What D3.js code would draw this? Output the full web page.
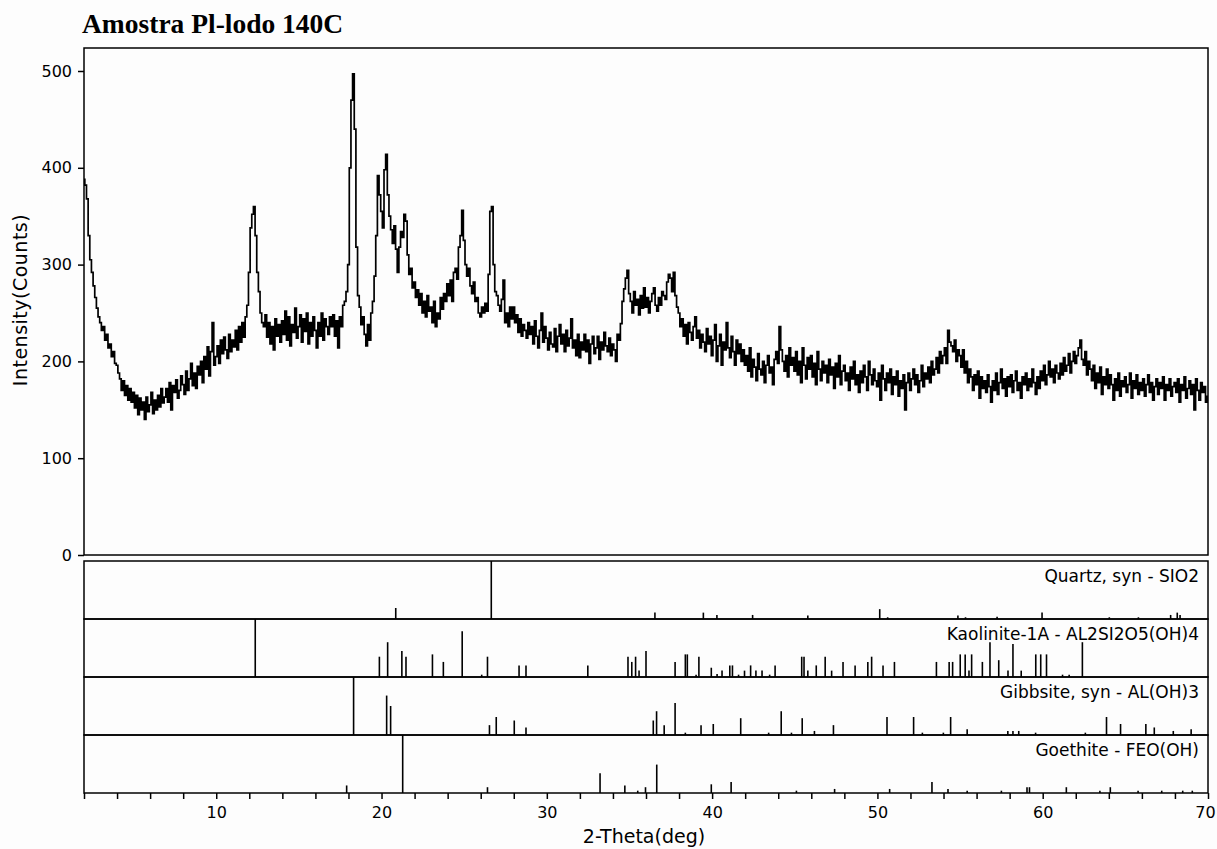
<!DOCTYPE html>
<html>
<head>
<meta charset="utf-8">
<script src="https://cdn.jsdelivr.net/npm/d3@7"></script>
<style>
  body { margin: 0; background: #fdfdfd; }
  svg { display: block; }
  text { font-family: "DejaVu Sans", sans-serif; fill: #000; }
</style>
</head>
<body>
<div id="chart"></div>
<script>
// ---- scan data: counts every 0.1 deg from 2.0 to 70.0 ----
const twoThetaStart = 2.0, twoThetaStep = 0.1;
const counts = [
  388, 382, 368, 330, 305, 292, 278, 266, 255, 246,
  240, 232, 236, 222, 228, 214, 218, 205, 210, 198,
  196, 188, 182, 170, 180, 165, 175, 160, 172, 158,
  168, 152, 165, 145, 162, 150, 158, 140, 163, 148,
  155, 168, 146, 160, 150, 165, 153, 172, 157, 163,
  172, 158, 178, 150, 175, 168, 181, 162, 170, 185,
  176, 166, 190, 170, 182, 198, 175, 188, 172, 195,
  186, 200, 178, 205, 192, 215, 185, 210, 240, 196,
  205, 216, 198, 222, 208, 225, 212, 203, 228, 210,
  222, 215, 232, 212, 236, 220, 240, 225, 246, 258,
  292, 338, 352, 360, 330, 292, 272, 250, 240, 236,
  248, 225, 240, 218, 236, 212, 244, 226, 238, 220,
  242, 228, 252, 222, 246, 216, 238, 230, 255, 224,
  236, 248, 220, 244, 231, 250, 218, 240, 226, 246,
  232, 214, 240, 226, 250, 222, 244, 236, 228, 246,
  236, 248, 226, 242, 214, 246, 236, 258, 262, 272,
  300, 400, 470, 497, 440, 318, 268, 256, 238, 246,
  228, 216, 238, 222, 250, 262, 288, 330, 392, 372,
  355, 338, 398, 414, 372, 350, 336, 322, 340, 316,
  292, 318, 334, 328, 352, 345, 310, 290, 296, 276,
  282, 266, 274, 258, 270, 250, 262, 246, 268, 252,
  256, 240, 262, 236, 250, 244, 266, 254, 270, 262,
  280, 268, 284, 262, 292, 296, 285, 318, 330, 356,
  325, 300, 288, 296, 278, 270, 282, 262, 266, 250,
  246, 256, 250, 260, 252, 290, 355, 360, 300, 272,
  268, 258, 252, 264, 284, 240, 250, 236, 256, 244,
  256, 240, 248, 230, 244, 226, 238, 232, 224, 240,
  228, 236, 218, 242, 226, 214, 232, 250, 220, 236,
  224, 212, 230, 218, 215, 234, 210, 226, 238, 218,
  228, 210, 232, 216, 224, 244, 214, 222, 206, 228,
  204, 220, 212, 228, 210, 222, 198, 218, 226, 208,
  214, 226, 202, 220, 212, 230, 216, 210, 224, 206,
  218, 212, 200, 228, 222, 239, 262, 275, 286, 294,
  270, 262, 250, 272, 258, 264, 248, 268, 255, 276,
  256, 266, 250, 262, 270, 276, 258, 252, 266, 258,
  272, 268, 264, 282, 290, 286, 272, 292, 268, 256,
  250, 236, 244, 226, 238, 218, 240, 230, 222, 236,
  246, 224, 232, 214, 228, 220, 210, 234, 218, 226,
  206, 222, 238, 200, 216, 228, 196, 220, 212, 240,
  214, 204, 226, 210, 196, 222, 208, 218, 200, 212,
  196, 206, 190, 214, 184, 202, 194, 180, 208, 192,
  186, 200, 178, 196, 206, 188, 194, 176, 202, 210,
  198, 236, 212, 200, 190, 206, 184, 214, 196, 204,
  190, 210, 186, 200, 178, 214, 196, 182, 204, 192,
  206, 184, 198, 176, 210, 192, 180, 200, 188, 196,
  178, 202, 186, 194, 172, 198, 184, 206, 176, 190,
  196, 180, 188, 170, 194, 182, 200, 176, 186, 168,
  190, 178, 196, 184, 170, 200, 186, 176, 192, 180,
  174, 188, 160, 196, 182, 170, 188, 178, 192, 166,
  184, 176, 190, 164, 180, 172, 186, 150, 178, 188,
  170, 182, 192, 176, 186, 168, 180, 196, 174, 188,
  182, 194, 178, 200, 186, 192, 204, 188, 210, 198,
  206, 214, 198, 232, 220, 216, 210, 222, 200, 212,
  206, 194, 212, 188, 200, 178, 192, 184, 170, 186,
  176, 190, 162, 184, 172, 180, 168, 186, 174, 158,
  180, 170, 188, 166, 178, 192, 172, 182, 164, 184,
  174, 186, 168, 180, 190, 170, 178, 162, 184, 176,
  188, 170, 182, 174, 192, 178, 166, 184, 172, 190,
  180, 196, 176, 186, 200, 184, 192, 178, 196, 188,
  182, 198, 186, 204, 190, 196, 208, 188, 200, 210,
  198, 206, 214, 222, 202, 196, 210, 186, 200, 192,
  180, 196, 172, 188, 178, 194, 166, 184, 176, 192,
  172, 186, 176, 160, 182, 170, 188, 164, 180, 174,
  184, 168, 176, 188, 162, 180, 172, 186, 166, 178,
  170, 182, 164, 176, 186, 168, 178, 160, 174, 182,
  166, 178, 172, 184, 160, 176, 170, 182, 164, 174,
  178, 168, 182, 158, 176, 170, 184, 162, 172, 180,
  166, 176, 150, 182, 170, 160, 178, 168, 174, 158,
  164
];

// ---- reference patterns (2-theta, relative intensity %) ----
const phaseNames = [
  "Quartz, syn - SIO2",
  "Kaolinite-1A - AL2SI2O5(OH)4",
  "Gibbsite, syn - AL(OH)3",
  "Goethite - FEO(OH)"
];
const quartzPos = [20.86, 26.64, 36.54, 39.47, 40.29, 42.45, 45.79, 50.14, 50.62, 54.87, 55.33, 57.24, 59.96, 64.03, 65.79, 67.74, 68.14, 68.31];
const quartzInt = [19, 100, 11, 11, 7, 7, 6, 17, 3, 6, 3, 4, 11, 3, 3, 7, 11, 7];
const kaolinitePos = [12.36, 19.87, 20.37, 21.23, 21.48, 23.08, 23.74, 24.88, 26.06, 26.41, 28.32, 28.74, 32.48, 34.91, 35.14, 35.37, 35.58, 36.0, 37.76, 38.38, 38.5, 39.03, 39.2, 39.95, 40.3, 40.6, 41.07, 41.23, 41.6, 41.96, 42.33, 42.65, 43.02, 43.48, 43.81, 45.42, 45.56, 45.79, 46.3, 46.84, 47.23, 47.92, 48.65, 49.42, 49.65, 50.34, 51.03, 53.57, 54.34, 54.55, 55.01, 55.31, 55.54, 55.7, 56.35, 56.81, 57.34, 57.9, 58.2, 58.7, 59.58, 59.88, 60.23, 61.2, 61.6, 62.4];
const kaoliniteInt = [100, 35, 60, 45, 35, 39, 26, 79, 4, 35, 20, 20, 20, 35, 26, 35, 11, 45, 26, 39, 39, 4, 35, 16, 5, 11, 20, 20, 4, 11, 20, 11, 11, 4, 20, 35, 35, 11, 20, 35, 11, 26, 20, 26, 35, 20, 26, 26, 26, 26, 39, 39, 11, 39, 26, 60, 29, 11, 57, 11, 39, 39, 39, 4, 4, 60];
const gibbsitePos = [18.31, 20.31, 20.55, 26.53, 26.94, 28.03, 28.74, 36.44, 36.64, 37.1, 37.76, 38.38, 39.33, 40.07, 41.73, 43.42, 44.18, 44.8, 45.45, 46.19, 47.34, 50.58, 52.19, 52.72, 53.99, 54.43, 55.43, 57.89, 58.2, 58.55, 59.57, 62.58, 63.86, 64.71, 66.24, 66.75, 67.9, 68.98];
const gibbsiteInt = [100, 68, 50, 17, 31, 25, 13, 25, 41, 17, 55, 4, 17, 19, 29, 4, 41, 4, 29, 7, 17, 31, 31, 4, 4, 31, 10, 7, 7, 7, 4, 4, 31, 19, 19, 13, 7, 10];
const goethitePos = [17.89, 21.28, 26.41, 33.22, 34.72, 35.5, 35.97, 36.65, 39.95, 41.15, 45.1, 47.41, 50.74, 53.3, 54.27, 55.43, 57.5, 59.05, 59.2, 61.43, 63.46, 64.09, 65.77, 67.2, 68.47, 69.05];
const goethiteInt = [13, 100, 10, 34, 13, 4, 10, 49, 15, 19, 4, 7, 7, 19, 7, 4, 4, 10, 10, 10, 4, 10, 4, 4, 4, 4];

const yTicks = [0, 100, 200, 300, 400, 500];
const xTickLabels = [10, 20, 30, 40, 50, 60, 70];

// ---- layout ----
const width = 1217, height = 849;
const plotLeft = 84, plotRight = 1208, plotTop = 48, zeroY = 555;
const panelTop = 561, panelH = 58;

const svg = d3.select("#chart").append("svg")
  .attr("width", width).attr("height", height);

const x = d3.scaleLinear().domain([2, 70]).range([plotLeft, plotRight]);
const y = d3.scaleLinear().domain([0, 500]).range([zeroY, 71]);

// title
svg.append("text")
  .attr("x", 82).attr("y", 33)
  .style("font-family", "'Liberation Serif', 'Times New Roman', serif")
  .style("font-weight", "bold")
  .style("font-size", "27.5px")
  .text("Amostra Pl-lodo 140C");

// main frame
svg.append("rect")
  .attr("x", plotLeft).attr("y", plotTop)
  .attr("width", plotRight - plotLeft).attr("height", zeroY - plotTop)
  .attr("fill", "none").attr("stroke", "#000").attr("stroke-width", 1.5);

const yAxis = svg.append("g")
  .attr("transform", `translate(${plotLeft},0)`)
  .call(d3.axisLeft(y).tickValues(yTicks).tickSize(6).tickPadding(6));
yAxis.select(".domain").remove();
yAxis.selectAll("line").attr("stroke-width", 1.5);
yAxis.selectAll("text").style("font-size", "16px").style("font-family", "DejaVu Sans");

svg.append("text")
  .attr("transform", "translate(27,300) rotate(-90)")
  .attr("text-anchor", "middle")
  .style("font-size", "19px")
  .style("letter-spacing", "0.5px")
  .text("Intensity(Counts)");

// pattern trace
const scan = counts.map((c, i) => ({ t: twoThetaStart + i * twoThetaStep, c }));
const line = d3.line()
  .x(d => x(d.t))
  .y(d => y(d.c))
  .curve(d3.curveStep);

svg.append("path")
  .datum(scan)
  .attr("fill", "none")
  .attr("stroke", "#000")
  .attr("stroke-width", 1.7)
  .attr("d", line);

// reference panels
const phases = [
  { pos: quartzPos, rel: quartzInt },
  { pos: kaolinitePos, rel: kaoliniteInt },
  { pos: gibbsitePos, rel: gibbsiteInt },
  { pos: goethitePos, rel: goethiteInt }
];
const h = d3.scaleLinear().domain([0, 100]).range([0, panelH]);

phases.forEach((p, i) => {
  const y0 = panelTop + i * panelH;
  const g = svg.append("g");
  g.append("rect")
    .attr("x", plotLeft).attr("y", y0)
    .attr("width", plotRight - plotLeft).attr("height", panelH)
    .attr("fill", "none").attr("stroke", "#000").attr("stroke-width", 1.5);
  g.append("text")
    .attr("x", 1199).attr("y", y0 + 21)
    .attr("text-anchor", "end")
    .style("font-size", "17px")
    .text(phaseNames[i]);
  g.selectAll("line.stick")
    .data(p.pos.map((t, k) => ({ t, r: p.rel[k] })))
    .join("line")
    .attr("class", "stick")
    .attr("x1", d => x(d.t)).attr("x2", d => x(d.t))
    .attr("y1", y0 + panelH).attr("y2", d => y0 + panelH - h(d.r))
    .attr("stroke", "#000").attr("stroke-width", 1.6);
});

// bottom axis
const xAxis = svg.append("g")
  .attr("transform", `translate(0,${panelTop + 4 * panelH})`)
  .call(d3.axisBottom(x).tickValues(d3.range(2, 71, 2)).tickSize(6).tickPadding(8)
    .tickFormat(d => xTickLabels.includes(d) ? d : ""));
xAxis.select(".domain").remove();
xAxis.selectAll("line").attr("stroke-width", 1.5);
xAxis.selectAll("text").style("font-size", "16px").style("font-family", "DejaVu Sans");
// keep the last label inside the page edge
xAxis.selectAll(".tick").filter(d => d === 70).select("text").attr("x", -3);

svg.append("text")
  .attr("x", 644).attr("y", 843)
  .attr("text-anchor", "middle")
  .style("font-size", "19px")
  .text("2-Theta(deg)");
</script>
</body>
</html>
